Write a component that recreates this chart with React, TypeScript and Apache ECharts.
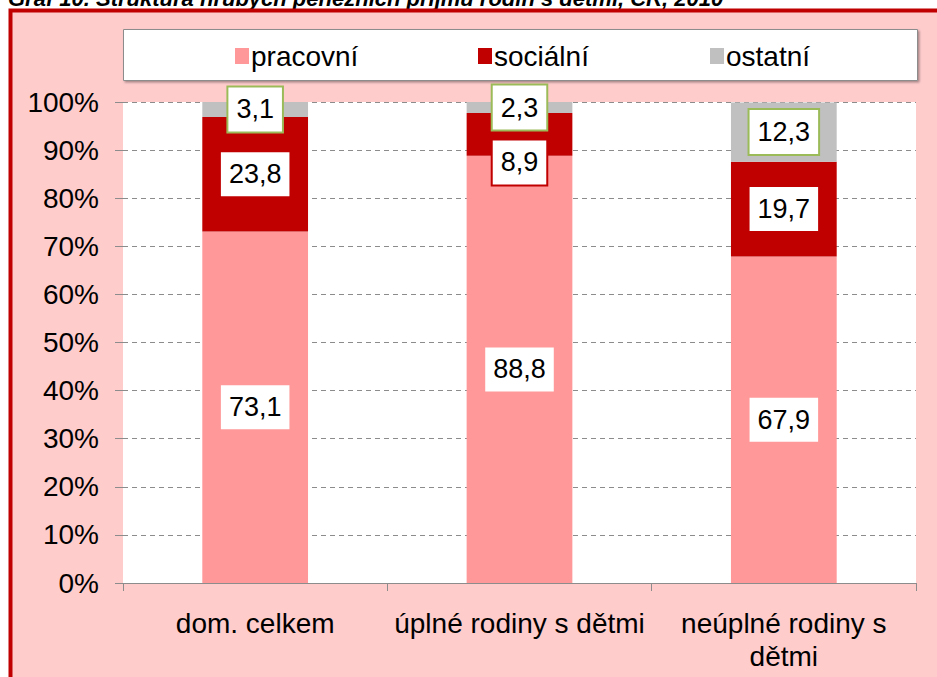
import React, { useEffect, useRef } from "react";
import * as echarts from "echarts";

const categories = ["dom. celkem", "úplné rodiny s dětmi", "neúplné rodiny s\ndětmi"];
const seriesNames = ["pracovní", "sociální", "ostatní"];
const pracovni = [73.1, 88.8, 67.9];
const socialni = [23.8, 8.9, 19.7];
const ostatni = [3.1, 2.3, 12.3];
const socialniLabelShift = [0, 28, 0];
const yMin = 0;
const yMax = 100;
const yStep = 10;
const titleText = "Graf 10. Struktura hrubých peněžních příjmů rodin s dětmi, ČR, 2010";

const FONT = "Arial, 'Liberation Sans', sans-serif";
const colors = ["#ff9999", "#c00000", "#c0c0c0"];
const labelBorders = ["#ff9999", "#c00000", "#9bbb59"];

const fmt = (v: number) => String(v).replace(".", ",");

export default function App() {
  const ref = useRef<HTMLDivElement>(null);
  useEffect(() => {
    if (!ref.current) return;
    const chart = echarts.init(ref.current, null, { renderer: "svg" });
    const mkLabel = (i: number) => ({
      show: true,
      position: "inside",
      formatter: (p: any) => fmt(p.value),
      fontFamily: FONT,
      fontSize: 27,
      color: "#000",
      backgroundColor: "#fff",
      borderColor: labelBorders[i],
      borderWidth: 2,
      padding: [9, 8, 8, 8],
    });
    const datasets = [pracovni, socialni, ostatni];
    const series = datasets.map((arr, i) => ({
      name: seriesNames[i],
      type: "bar",
      stack: "total",
      barWidth: "40%",
      itemStyle: { color: colors[i] },
      label: mkLabel(i),
      data: arr.map((v, j) =>
        i === 1 && socialniLabelShift[j]
          ? { value: v, label: { offset: [0, socialniLabelShift[j]] } }
          : v
      ),
    }));
    const legendX = [235, 478, 710];
    chart.setOption({
      animation: false,
      backgroundColor: "#fff",
      graphic: [
        {
          type: "rect",
          z: -10,
          shape: { x: 10.5, y: 10.5, width: 1000, height: 1000 },
          style: { fill: "#ffcccc", stroke: "#c00000", lineWidth: 4 },
        },
        {
          type: "text",
          z: -12,
          x: 8,
          y: 9,
          style: {
            text: titleText,
            fontFamily: FONT,
            fontSize: 22,
            fontStyle: "italic",
            fontWeight: "bold",
            fill: "#000",
            verticalAlign: "bottom",
          },
        },
        {
          type: "rect",
          z: -5,
          shape: { x: 123.5, y: 29.5, width: 794, height: 51 },
          style: {
            fill: "#fff",
            stroke: "#8c8c8c",
            lineWidth: 1,
            shadowBlur: 2,
            shadowOffsetX: 1.5,
            shadowOffsetY: 1.5,
            shadowColor: "rgba(0,0,0,0.35)",
          },
        },
      ],
      legend: seriesNames.map((n, i) => ({
        data: [n],
        left: legendX[i],
        top: 40,
        padding: 0,
        icon: "rect",
        itemWidth: 14,
        itemHeight: 16,
        textStyle: { fontFamily: FONT, fontSize: 28, color: "#000", padding: [0, 0, 0, -3], lineHeight: 32 },
      })),
      grid: {
        left: 123,
        right: 21,
        top: 102,
        bottom: 94,
        show: true,
        backgroundColor: "#fff",
        borderWidth: 0,
        containLabel: false,
      },
      xAxis: {
        type: "category",
        data: categories,
        axisLine: { show: true, lineStyle: { color: "#8c8c8c", width: 1 } },
        axisTick: { show: true, length: 8, interval: 0, lineStyle: { color: "#8c8c8c" } },
        axisLabel: {
          interval: 0,
          margin: 24,
          fontFamily: FONT,
          fontSize: 28,
          lineHeight: 33,
          color: "#000",
        },
      },
      yAxis: {
        type: "value",
        min: yMin,
        max: yMax,
        interval: yStep,
        axisLine: { show: false },
        axisTick: { show: true, length: 8, lineStyle: { color: "#8c8c8c" } },
        axisLabel: {
          margin: 24,
          formatter: "{value}%",
          fontFamily: FONT,
          fontSize: 28,
          color: "#000",
        },
        splitLine: { show: true, lineStyle: { color: "#8c8c8c", type: [5, 4], width: 1 } },
      },
      series,
    });
    return () => chart.dispose();
  }, []);
  return (
    <div
      ref={ref}
      style={{ position: "fixed", left: 0, top: 0, width: 937, height: 677 }}
    />
  );
}
